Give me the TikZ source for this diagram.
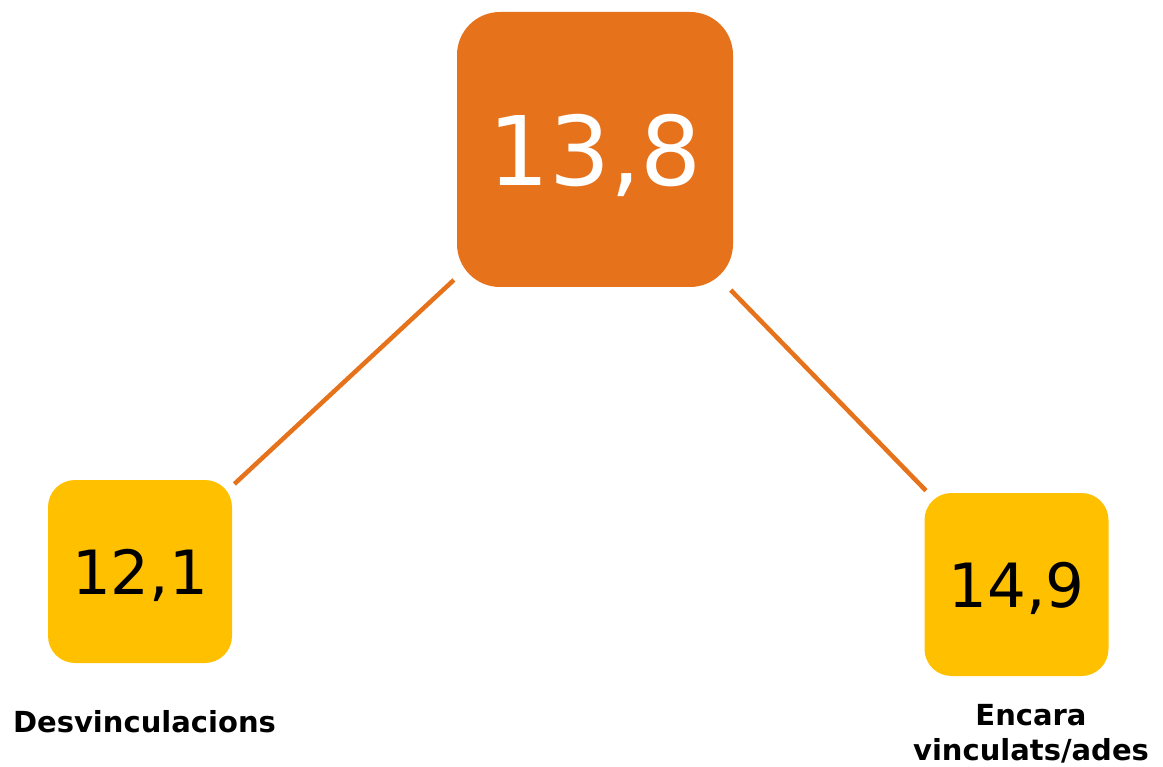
\documentclass[tikz,border=0pt]{standalone}
\usepackage{fontspec}
\setmainfont{DejaVu Sans}
\definecolor{taronja}{HTML}{E7721C}
\definecolor{groc}{HTML}{FFC000}
\begin{document}
\begin{tikzpicture}[x=1pt,y=-1pt,
  gran/.style={fill=taronja,text=white,inner sep=0pt,text depth=0pt,
    minimum width=276pt,minimum height=275pt,rounded corners=43pt,
    font=\fontsize{96}{96}\selectfont},
  petit/.style={fill=groc,text=black,inner sep=0pt,text depth=0pt,
    minimum width=184pt,minimum height=183pt,rounded corners=27pt,
    font=\fontsize{61}{61}\selectfont},
  etiqueta/.style={font=\bfseries\fontsize{29}{35}\selectfont,align=center,inner sep=0pt},
  linia/.style={draw=taronja,line width=4.5pt,shorten <=4pt,shorten >=3pt}]
\useasboundingbox (0,0) rectangle (1163,767);
% caixes
\node[gran] (total) at (595,149.5) {13,8};
\node[petit] (desv) at (140,571.5) {12,1};
\node[petit] (vinc) at (1016.5,584.5) {14,9};
% linies
\draw[linia] (total) -- (desv);
\draw[linia] (total) -- (vinc);
% etiquetes
\node[etiqueta,anchor=base] (ldesv) at (144.5,732.5) {Desvinculacions};
\node[etiqueta,anchor=base] (lvinc) at (1031,760) {Encara\\vinculats/ades};
\end{tikzpicture}
\end{document}
